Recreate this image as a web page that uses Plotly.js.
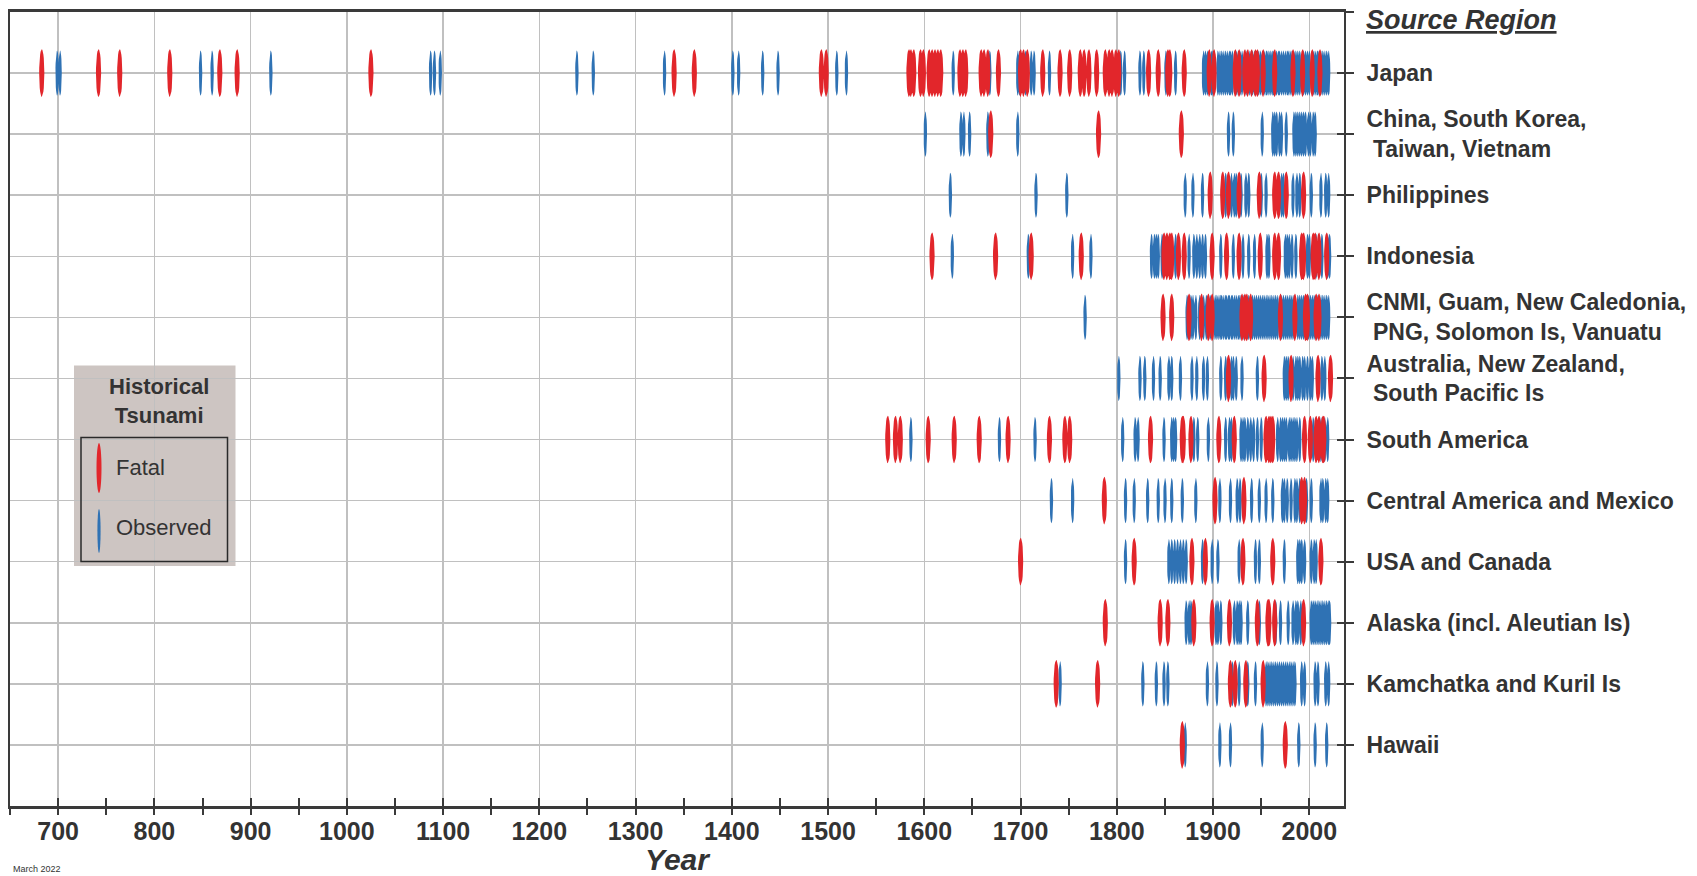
<!DOCTYPE html>
<html>
<head>
<meta charset="utf-8">
<script src="https://cdn.plot.ly/plotly-3.0.1.min.js"></script>
<style>
  html, body { margin: 0; padding: 0; background: #ffffff; }
  #chart { width: 1697px; height: 876px; }
</style>
</head>
<body>
<div id="chart"></div>
<script>
// ---------------- DATA (years) ----------------
const rowLabels = [
  'Japan',
  'China, South Korea,<br>\u00a0Taiwan, Vietnam',
  'Philippines',
  'Indonesia',
  'CNMI, Guam, New Caledonia,<br>\u00a0PNG, Solomon Is, Vanuatu',
  'Australia, New Zealand,<br>\u00a0South Pacific Is',
  'South America',
  'Central America and Mexico',
  'USA and Canada',
  'Alaska (incl. Aleutian Is)',
  'Kamchatka and Kuril Is',
  'Hawaii'
];

const yearTicks = [700, 800, 900, 1000, 1100, 1200, 1300, 1400, 1500, 1600, 1700, 1800, 1900, 2000];

const japanFatal = [683,742,764,816,868,886,1025,1340,1361,1493,1498,1584,1586,1589,1596,1599,1605,1608,1611,1614,1617,1637,1640,1643,1659,1662,1666,1677,1700,1703,1707,1723,1741,1751,1762,1766,1771,1779,1788,1792,1795,1799,1802,1833,1843,1853,1855,1870,1896,1901,1923,1927,1933,1936,1940,1944,1946,1952,1964,1983,1993,2003,2011];
const japanObserved = [699,702,848,860,921,1087,1091,1097,1239,1256,1330,1401,1407,1432,1448,1509,1519,1630,1668,1697,1699,1705,1711,1714,1730,1804,1808,1824,1828,1851,1861,1890,1892,1894,1898,1899,1905,1907,1909,1911,1913,1915,1917,1918,1920,1924,1926,1928,1930,1935,1938,1941,1943,1947,1949,1951,1953,1955,1956,1958,1960,1962,1963,1966,1968,1969,1971,1973,1975,1977,1978,1980,1982,1984,1986,1988,1990,1994,1996,1998,2000,2004,2006,2008,2009,2012,2014,2016,2018,2020];

const chinaFatal = [1669,1781,1867];
const chinaObserved = [1601,1638,1641,1647,1666,1697,1916,1921,1951,1962,1964,1966,1969,1971,1976,1984,1986,1988,1990,1992,1994,1996,1999,2001,2004,2006];

const philippinesFatal = [1897,1910,1916,1927,1948,1964,1968,1976,1994];
const philippinesObserved = [1627,1716,1748,1871,1879,1889,1913,1919,1922,1924,1929,1934,1937,1950,1955,1971,1973,1983,1987,1990,2002,2012,2017,2020];

const indonesiaFatal = [1608,1674,1711,1763,1849,1852,1855,1857,1864,1870,1899,1914,1927,1949,1964,1968,1992,1994,2004,2006,2010,2018];
const indonesiaObserved = [1629,1708,1754,1773,1836,1839,1841,1843,1847,1861,1875,1880,1883,1886,1889,1892,1908,1921,1931,1937,1943,1956,1958,1975,1977,1979,1982,1986,1998,2000,2007,2013,2019,2021];

const cnmiFatal = [1848,1857,1875,1888,1895,1899,1930,1933,1935,1939,1970,1985,1996,1998,2007,2010];
const cnmiObserved = [1767,1873,1877,1879,1882,1886,1890,1893,1897,1902,1904,1906,1908,1909,1911,1913,1914,1916,1917,1919,1920,1922,1924,1926,1927,1929,1932,1937,1941,1943,1945,1947,1949,1951,1953,1955,1957,1959,1961,1963,1965,1967,1971,1973,1975,1977,1979,1981,1983,1988,1990,1992,1994,1999,2001,2003,2005,2008,2012,2014,2016,2018,2020];

const australiaFatal = [1916,1953,1981,2009,2022];
const australiaObserved = [1802,1824,1829,1838,1845,1854,1857,1866,1878,1883,1890,1894,1908,1913,1919,1921,1924,1930,1946,1974,1976,1978,1983,1986,1988,1990,1993,1995,1998,2001,2003,2013,2016];

const southAmericaFatal = [1562,1570,1575,1604,1631,1657,1687,1730,1746,1751,1835,1868,1869,1877,1906,1922,1955,1958,1960,1962,1995,2001,2007,2010,2014,2015];
const southAmericaObserved = [1586,1678,1715,1806,1819,1822,1849,1857,1859,1861,1880,1884,1895,1913,1917,1919,1929,1931,1933,1936,1939,1942,1946,1950,1967,1970,1972,1974,1976,1979,1981,1983,1985,1987,1990,2004,2012,2016,2019];

const centralAmericaFatal = [1787,1902,1932,1992,1995];
const centralAmericaObserved = [1732,1754,1809,1818,1832,1843,1850,1857,1868,1882,1907,1918,1925,1928,1940,1948,1955,1962,1972,1974,1977,1981,1985,1987,1990,1997,2002,2012,2014,2017,2019];

const usaCanadaFatal = [1700,1818,1878,1892,1931,1962,2012];
const usaCanadaObserved = [1809,1854,1857,1860,1863,1866,1869,1872,1889,1899,1905,1927,1944,1948,1974,1988,1990,1992,1995,2002,2005,2007];

const alaskaFatal = [1788,1845,1853,1880,1899,1917,1946,1957,1958,1964,1994];
const alaskaObserved = [1872,1875,1877,1903,1905,1908,1922,1925,1927,1929,1936,1948,1965,1970,1978,1983,1986,1988,1991,2002,2004,2006,2008,2010,2012,2014,2016,2018,2020,2021];

const kamchatkaFatal = [1737,1780,1918,1923,1934,1952];
const kamchatkaObserved = [1741,1827,1841,1849,1853,1894,1904,1920,1927,1936,1944,1955,1957,1959,1961,1963,1965,1967,1969,1971,1973,1975,1977,1979,1981,1983,1985,1992,1995,2006,2009,2017,2020];

const hawaiiFatal = [1868,1975];
const hawaiiObserved = [1871,1907,1918,1951,1989,2006,2018];

// ---------------- BUILD ----------------
const fatalByRow = [japanFatal, chinaFatal, philippinesFatal, indonesiaFatal, cnmiFatal, australiaFatal,
  southAmericaFatal, centralAmericaFatal, usaCanadaFatal, alaskaFatal, kamchatkaFatal, hawaiiFatal];
const observedByRow = [japanObserved, chinaObserved, philippinesObserved, indonesiaObserved, cnmiObserved, australiaObserved,
  southAmericaObserved, centralAmericaObserved, usaCanadaObserved, alaskaObserved, kamchatkaObserved, hawaiiObserved];

const RED = '#e2262b';
const BLUE = '#2f72b4';
const TXT = '#333333';
const AXC = '#3a3a3a';
const GRID = '#c0c0c0';
const NARROW = 'Liberation Sans Narrow, Arial Narrow, Liberation Sans, sans-serif';
const SANS = 'Liberation Sans, Arial, sans-serif';

// Each event is drawn as a thin vertical ellipse in data space (year, row)
function ellipseTrace(byRow, halfWidthYears, halfHeightRows, color, name) {
  const xs = [], ys = [];
  const N = 28;
  byRow.forEach((years, r) => {
    const rowPos = r + 1;
    years.forEach(yr => {
      for (let k = 0; k <= N; k++) {
        const t = 2 * Math.PI * k / N;
        xs.push(yr + halfWidthYears * Math.cos(t));
        ys.push(rowPos + halfHeightRows * Math.sin(t));
      }
      xs.push(null); ys.push(null);
    });
  });
  return {
    type: 'scatter', mode: 'lines', name: name,
    x: xs, y: ys, fill: 'toself', fillcolor: color,
    line: { width: 0, color: color },
    hoverinfo: 'skip', showlegend: false, connectgaps: false
  };
}

const traces = [
  ellipseTrace(observedByRow, 1.8, 0.37, BLUE, 'Observed'),
  ellipseTrace(fatalByRow, 2.7, 0.39, RED, 'Fatal'),
  { type: 'scatter', x: [], y: [], xaxis: 'x2', yaxis: 'y2', showlegend: false, hoverinfo: 'skip' }
];

const rowTickVals = [0].concat(rowLabels.map((_, i) => i + 1));
const rowTickText = [''].concat(rowLabels);

const X_RANGE = [650, 2036];
const Y_RANGE = [13, 0];

// plot area in pixels: x 10..1344, y 12..806
const L = 10, R = 1344, T = 12, B = 806;
const px = v => (v - L) / (R - L);
const py = v => (B - v) / (B - T);

const layout = {
  width: 1697, height: 876,
  margin: { l: L, r: 1697 - R, t: T, b: 876 - B },
  paper_bgcolor: '#ffffff', plot_bgcolor: '#ffffff',
  showlegend: false,
  font: { family: SANS, color: TXT },
  xaxis: {
    range: X_RANGE, tickmode: 'array', tickvals: yearTicks,
    showgrid: true, gridcolor: GRID, gridwidth: 1.5, zeroline: false,
    showline: true, linecolor: AXC, linewidth: 3, mirror: true,
    ticks: 'inside', ticklen: 8, tickwidth: 2, tickcolor: AXC,
    minor: { dtick: 50, tick0: 650, ticks: 'inside', ticklen: 8, tickwidth: 2, tickcolor: AXC, showgrid: false },
    tickfont: { family: NARROW, size: 25, color: TXT, weight: 'bold' },
    ticklabelstandoff: 1,
    title: { text: 'Year', font: { family: NARROW, size: 30, color: TXT, weight: 'bold', style: 'italic' } },
    automargin: false, fixedrange: true
  },
  xaxis2: {
    overlaying: 'x', anchor: 'y2', side: 'bottom', range: X_RANGE,
    tickmode: 'array', tickvals: yearTicks,
    showgrid: false, zeroline: false, showline: false, showticklabels: false,
    ticks: 'outside', ticklen: 8, tickwidth: 2, tickcolor: AXC,
    minor: { dtick: 50, tick0: 650, ticks: 'outside', ticklen: 8, tickwidth: 2, tickcolor: AXC, showgrid: false },
    automargin: false, fixedrange: true
  },
  yaxis: {
    range: Y_RANGE, tickmode: 'array', tickvals: rowTickVals, ticktext: rowTickText,
    side: 'right', showgrid: true, gridcolor: GRID, gridwidth: 1.5, zeroline: false,
    showline: true, linecolor: AXC, linewidth: 2, mirror: true,
    ticks: 'outside', ticklen: 8, tickwidth: 2, tickcolor: AXC,
    tickfont: { family: SANS, size: 23, color: TXT, weight: 'bold' },
    ticklabelstandoff: 8,
    automargin: false, fixedrange: true
  },
  yaxis2: {
    overlaying: 'y', anchor: 'x2', side: 'right', range: Y_RANGE,
    tickmode: 'array', tickvals: rowTickVals,
    showgrid: false, zeroline: false, showline: false, showticklabels: false,
    ticks: 'inside', ticklen: 7, tickwidth: 2, tickcolor: AXC, automargin: false, fixedrange: true
  },
  shapes: [
    // legend panel
    { type: 'rect', xref: 'paper', yref: 'paper', layer: 'below',
      x0: px(74), x1: px(235.5), y0: py(566), y1: py(365.5),
      fillcolor: '#cdc5c2', line: { width: 0 } },
    { type: 'rect', xref: 'paper', yref: 'paper', layer: 'above',
      x0: px(81), x1: px(227.5), y0: py(561.5), y1: py(437.5),
      fillcolor: 'rgba(0,0,0,0)', line: { width: 1.5, color: '#2a2a2a' } },
    // legend glyphs
    { type: 'circle', xref: 'paper', yref: 'paper',
      x0: px(96.5), x1: px(101.5), y0: py(493), y1: py(443),
      fillcolor: RED, line: { width: 0 } },
    { type: 'circle', xref: 'paper', yref: 'paper',
      x0: px(97.4), x1: px(100.6), y0: py(553), y1: py(509),
      fillcolor: BLUE, line: { width: 0 } }
  ],
  annotations: [
    { xref: 'paper', yref: 'paper', x: 1, xshift: 20, y: 1, yshift: -8,
      xanchor: 'left', yanchor: 'middle', showarrow: false,
      text: '<u>Source Region</u>',
      font: { family: SANS, size: 27, color: TXT, weight: 'bold', style: 'italic' } },
    { xref: 'paper', yref: 'paper', x: px(158.5), y: py(401),
      xanchor: 'center', yanchor: 'middle', showarrow: false, align: 'center',
      text: 'Historical<br>Tsunami',
      font: { family: SANS, size: 22, color: TXT, weight: 'bold' } },
    { xref: 'paper', yref: 'paper', x: px(114), y: py(467),
      xanchor: 'left', yanchor: 'middle', showarrow: false,
      text: 'Fatal', font: { family: SANS, size: 22, color: TXT } },
    { xref: 'paper', yref: 'paper', x: px(114), y: py(527),
      xanchor: 'left', yanchor: 'middle', showarrow: false,
      text: 'Observed', font: { family: SANS, size: 22, color: TXT } },
    { xref: 'paper', yref: 'paper', x: 0, xshift: 1, y: py(869),
      xanchor: 'left', yanchor: 'middle', showarrow: false,
      text: 'March 2022', font: { family: NARROW, size: 9, color: TXT } }
  ]
};

Plotly.newPlot('chart', traces, layout, { staticPlot: true, displayModeBar: false });
</script>
</body>
</html>
